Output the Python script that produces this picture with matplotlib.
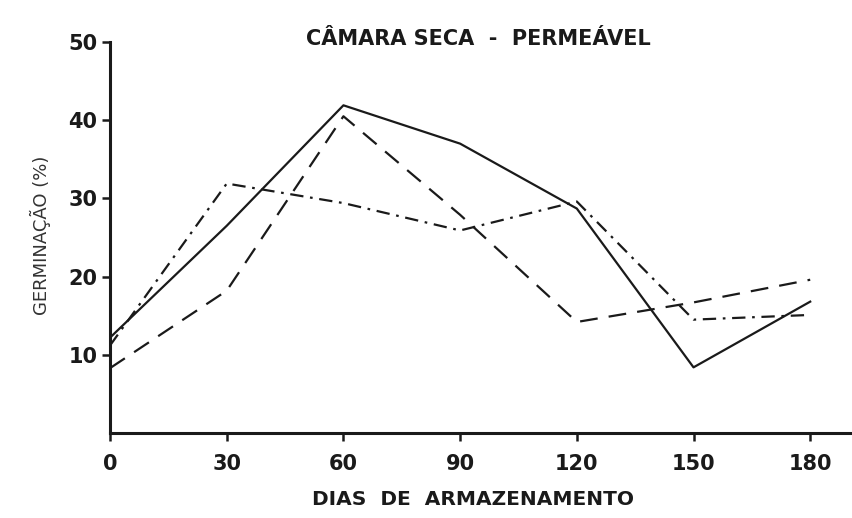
import matplotlib
matplotlib.use("Agg")
import matplotlib.pyplot as plt

days = [0, 30, 60, 90, 120, 150, 180]
solid = [12.2, 26.5, 41.9, 37.0, 28.7, 8.4, 16.8]
dashed = [8.3, 18.2, 40.5, 27.9, 14.2, 16.7, 19.6]
dashdot = [11.2, 31.9, 29.4, 25.9, 29.6, 14.5, 15.1]
y_ticks = [10, 20, 30, 40, 50]

title = "CÂMARA SECA  -  PERMEÁVEL"
xlabel = "DIAS  DE  ARMAZENAMENTO"
ylabel = "GERMINAÇÃO (%)"

ink = "#1a1a1a"

fig = plt.figure(figsize=(8.53, 5.18), dpi=100)
ax = fig.add_axes([0.129, 0.164, 0.871, 0.755])

ax.plot(days, solid, color=ink, linewidth=1.6, linestyle="-")
ax.plot(days, dashed, color=ink, linewidth=1.6, dashes=(8, 5))
ax.plot(days, dashdot, color=ink, linewidth=1.6, dashes=(6, 3, 1.2, 3))

ax.set_xlim(0, 191)
ax.set_ylim(0, 50)
ax.set_xticks(days)
ax.set_yticks(y_ticks)
ax.tick_params(axis="both", direction="out", length=6, width=1.8, color=ink,
               labelsize=15, labelcolor=ink)
ax.tick_params(axis="x", pad=9)
ax.tick_params(axis="y", pad=3)
for label in ax.get_xticklabels() + ax.get_yticklabels():
    label.set_fontweight("bold")

for side in ("top", "right"):
    ax.spines[side].set_visible(False)
for side in ("left", "bottom"):
    ax.spines[side].set_linewidth(2.2)
    ax.spines[side].set_color(ink)

fig.text(0.561, 0.925, title, ha="center", va="center", fontsize=15,
         fontweight="bold", color=ink)
fig.text(0.555, 0.035, xlabel, ha="center", va="center", fontsize=14.5,
         fontweight="bold", color=ink)
fig.text(0.047, 0.545, ylabel, ha="center", va="center", rotation=90,
         fontsize=13, color="#333333")

fig.savefig("out.png", dpi=100)
